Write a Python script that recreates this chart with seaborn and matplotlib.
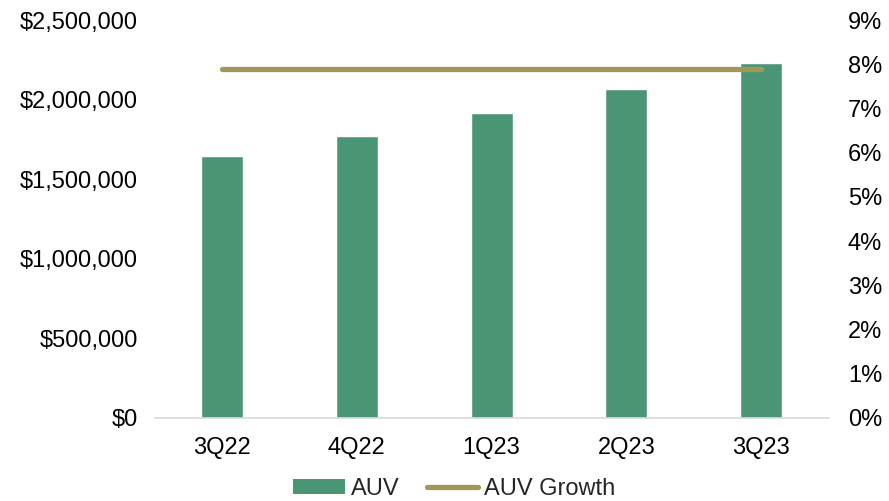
import matplotlib
matplotlib.use("Agg")
import matplotlib.pyplot as plt
import matplotlib.ticker as mticker
from matplotlib.patches import Patch
from matplotlib.lines import Line2D
import seaborn as sns
import pandas as pd

quarters = ["3Q22", "4Q22", "1Q23", "2Q23", "3Q23"]
auv = [1645000, 1773000, 1915000, 2066000, 2229000]
auv_growth = [7.9, 7.9, 7.9, 7.9, 7.9]

BAR_COLOR = "#4A9674"
LINE_COLOR = "#A09858"

sns.set_theme(style="white")
plt.rcParams["font.family"] = ["Liberation Sans", "DejaVu Sans"]
plt.rcParams["font.size"] = 17

df = pd.DataFrame({"quarter": quarters, "auv": auv, "growth": auv_growth})

fig = plt.figure(figsize=(8.89, 5.01), dpi=100)
ax = fig.add_axes([0.174, 0.166, 0.758, 0.794])

sns.barplot(data=df, x="quarter", y="auv", color=BAR_COLOR, width=0.31,
            saturation=1, ax=ax)
ax.set_ylim(0, 2500000)
ax.yaxis.set_major_locator(mticker.MultipleLocator(500000))
ax.yaxis.set_major_formatter(mticker.FuncFormatter(lambda v, p: f"${v:,.0f}"))
ax.set_xlim(-0.5, 4.5)
ax.set_xlabel("")
ax.set_ylabel("")

ax2 = ax.twinx()
sns.lineplot(x=list(range(len(quarters))), y=df["growth"], color=LINE_COLOR,
             linewidth=3.8, ax=ax2, solid_capstyle="round")
ax2.set_ylim(0, 9)
ax2.yaxis.set_major_locator(mticker.MultipleLocator(1))
ax2.yaxis.set_major_formatter(mticker.FuncFormatter(lambda v, p: f"{v:.0f}%"))
ax2.set_ylabel("")

for a in (ax, ax2):
    for s in a.spines.values():
        s.set_visible(False)
    a.tick_params(length=0, labelsize=17, colors="#000000")
ax.spines["bottom"].set_visible(True)
ax.spines["bottom"].set_color("#D9D9D9")
ax.spines["bottom"].set_linewidth(1.2)
ax.tick_params(axis="y", pad=12)
ax.tick_params(axis="x", pad=14)
ax2.tick_params(axis="y", pad=14)

handles = [Patch(facecolor=BAR_COLOR, edgecolor="none"),
           Line2D([0], [0], color=LINE_COLOR, linewidth=3.8, solid_capstyle="round")]
fig.legend(handles, ["AUV", "AUV Growth"], loc="center",
           bbox_to_anchor=(0.511, 0.024), ncol=2, frameon=False, fontsize=17,
           handlelength=2.2, handleheight=0.6, handletextpad=0.25,
           columnspacing=1.15)

fig.savefig("out.png", dpi=100)
